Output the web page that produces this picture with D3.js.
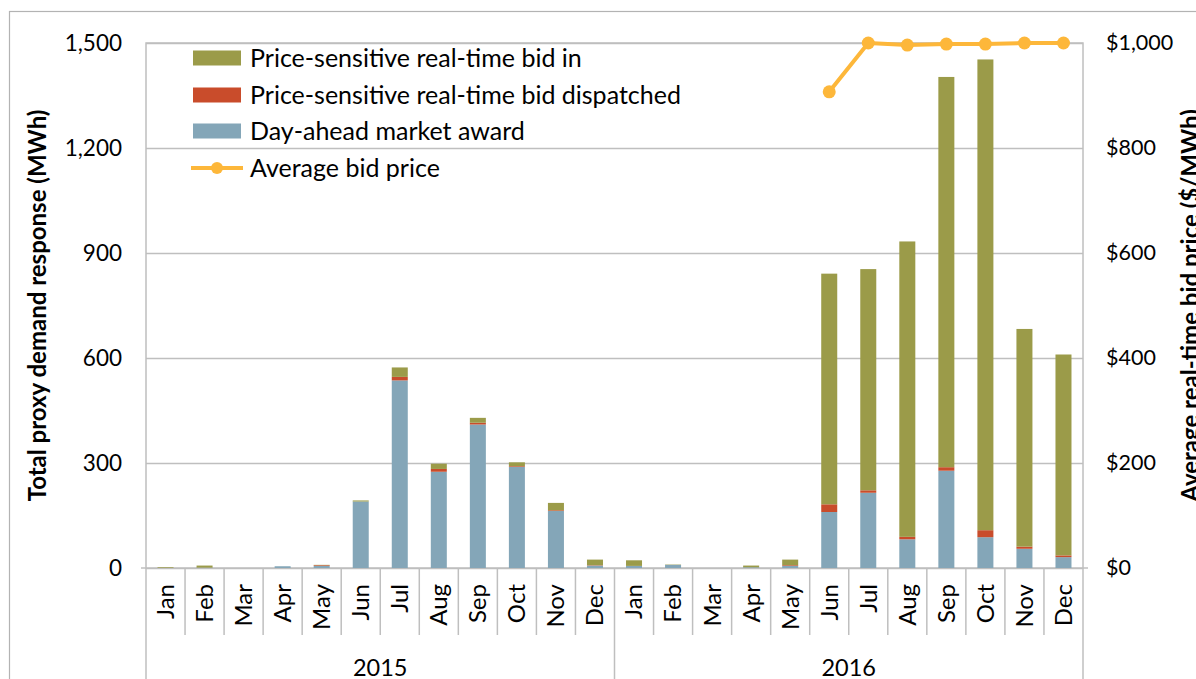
<!DOCTYPE html>
<html>
<head>
<meta charset="utf-8">
<script src="https://cdn.jsdelivr.net/npm/d3@7"></script>
<style>
  html, body { margin: 0; padding: 0; background: #fff; }
  svg { display: block; font-family: Lato, "Open Sans", sans-serif; }
</style>
</head>
<body>
<svg id="chart" width="1196" height="679"></svg>
<script>
// ---- data ----
const months = ["Jan","Feb","Mar","Apr","May","Jun","Jul","Aug","Sep","Oct","Nov","Dec"];
const years = ["2015","2016"];
const dayAheadAward = [0,1,0,5,6,190,536,275,410,289,163,7, 6,9,0,2,6,160,215,82,278,88,55,31];
const rtDispatched  = [0,0,0,0,2,0,10,8,5,2,2,1, 0,0,0,0,2,22,7,7,10,20,6,5];
const rtBidIn       = [2,6,0,0,1,3,27,15,14,11,21,16, 16,1,0,5,16,659,632,844,1115,1345,622,574];
const avgBidPrice   = [null,null,null,null,null,null,null,null,null,null,null,null,
                       null,null,null,null,null,907,1000,996,998,998,1000,1000];
const leftTicks = [0,300,600,900,1200,1500];
const rightTicks = [0,200,400,600,800,1000];
const seriesNames = ["Price-sensitive real-time bid in","Price-sensitive real-time bid dispatched","Day-ahead market award","Average bid price"];

// ---- styles ----
const colDA = "#84a6b8", colDisp = "#c94c2b", colBid = "#9b9b49", colLine = "#fdb73a";
const gridCol = "#bfbfbf", frameCol = "#bfbfbf";

const svg = d3.select("#chart");
const L = 146, R = 1083, T = 43, B = 568;

const idx = d3.range(24);
const x = d3.scaleBand().domain(idx).range([L, R]).paddingInner(0.59).paddingOuter(0.295);
const y = d3.scaleLinear().domain([0, 1500]).range([B, T]);
const y2 = d3.scaleLinear().domain([0, 1000]).range([B, T]);

// outer chart frame
svg.append("rect").attr("x", 9.5).attr("y", 11.5).attr("width", 1300).attr("height", 800)
  .attr("fill", "none").attr("stroke", "#b3b3b3").attr("stroke-width", 1.2);

// gridlines
svg.append("g").attr("transform", `translate(${L},0)`)
  .call(d3.axisLeft(y).tickValues(leftTicks).tickSize(-(R - L)).tickFormat(""))
  .call(g => g.select(".domain").remove())
  .call(g => g.selectAll("line").attr("stroke", gridCol).attr("stroke-width", 1.5));

// plot border
svg.append("rect").attr("x", L).attr("y", T).attr("width", R - L).attr("height", B - T)
  .attr("fill", "none").attr("stroke", frameCol).attr("stroke-width", 1.5);

// stacked bars
const rows = idx.map(i => ({ i, da: dayAheadAward[i], disp: rtDispatched[i], bid: rtBidIn[i] }));
const stack = d3.stack().keys(["da", "disp", "bid"])(rows);
const colors = { da: colDA, disp: colDisp, bid: colBid };
svg.append("g").selectAll("g").data(stack).join("g")
  .attr("fill", d => colors[d.key])
  .selectAll("rect").data(d => d).join("rect")
  .attr("x", d => x(d.data.i))
  .attr("width", x.bandwidth())
  .attr("y", d => y(d[1]))
  .attr("height", d => Math.max(0, y(d[0]) - y(d[1])));

// left axis labels
svg.append("g").attr("transform", `translate(${L},0)`)
  .call(d3.axisLeft(y).tickValues(leftTicks).tickSize(0).tickPadding(24).tickFormat(d3.format(",")))
  .call(g => g.select(".domain").remove())
  .call(g => g.selectAll("text").attr("font-family", "Lato").attr("font-size", 22.5).attr("fill", "#000"));

// right axis labels
svg.append("g").attr("transform", `translate(${R},0)`)
  .call(d3.axisRight(y2).tickValues(rightTicks).tickSize(0).tickPadding(23).tickFormat(d => "$" + d3.format(",")(d)))
  .call(g => g.select(".domain").remove())
  .call(g => g.selectAll("text").attr("font-family", "Lato").attr("font-size", 21.5).attr("fill", "#000"));

// small ticks at zero
svg.append("line").attr("x1", L - 5).attr("x2", L).attr("y1", B).attr("y2", B).attr("stroke", frameCol).attr("stroke-width", 1.5);
svg.append("line").attr("x1", R).attr("x2", R + 5).attr("y1", B).attr("y2", B).attr("stroke", frameCol).attr("stroke-width", 1.5);

// bottom category axis: separators
const step = x.step();
const edge = i => x(i) - (step - x.bandwidth()) / 2;
const sepG = svg.append("g").attr("stroke", frameCol).attr("stroke-width", 1.5);
d3.range(25).forEach(i => {
  const xx = i === 24 ? R : edge(i);
  const long = (i % 12 === 0);
  sepG.append("line").attr("x1", xx).attr("x2", xx).attr("y1", B).attr("y2", long ? 679 : 635);
});

// month labels
svg.append("g").attr("transform", `translate(0,${B})`)
  .call(d3.axisBottom(x).tickSize(0).tickFormat(i => months[i % 12]))
  .call(g => g.select(".domain").remove())
  .call(g => g.selectAll("text")
    .attr("font-family", "Lato").attr("font-size", 24).attr("fill", "#000")
    .attr("transform", "rotate(-90)")
    .attr("x", -16).attr("y", 0).attr("dy", "0.35em")
    .attr("text-anchor", "end"));

// year labels
years.forEach((yr, k) => {
  const x0 = edge(k * 12), x1 = k === 1 ? R : edge(12);
  svg.append("text").attr("x", (x0 + x1) / 2).attr("y", 676)
    .attr("text-anchor", "middle").attr("font-size", 23.5).attr("fill", "#000").text(yr);
});

// line series
const lineData = idx.filter(i => avgBidPrice[i] != null).map(i => ({ i, v: avgBidPrice[i] }));
const line = d3.line().x(d => x(d.i) + x.bandwidth() / 2).y(d => y2(d.v));
svg.append("path").datum(lineData).attr("d", line)
  .attr("fill", "none").attr("stroke", colLine).attr("stroke-width", 4).attr("stroke-linejoin", "round");
svg.append("g").selectAll("circle").data(lineData).join("circle")
  .attr("cx", d => x(d.i) + x.bandwidth() / 2).attr("cy", d => y2(d.v)).attr("r", 6.5).attr("fill", colLine);

// axis titles
svg.append("text").attr("transform", `translate(46,${(T + B) / 2}) rotate(-90)`)
  .attr("text-anchor", "middle").attr("font-weight", "bold").attr("font-size", 24).attr("fill", "#000")
  .text("Total proxy demand response (MWh)");
svg.append("text").attr("transform", `translate(1199,${(T + B) / 2}) rotate(-90)`)
  .attr("text-anchor", "middle").attr("font-weight", "bold").attr("font-size", 24).attr("fill", "#000")
  .text("Average real-time bid price ($/MWh)");

// legend
const lg = svg.append("g");
const legendColors = [colBid, colDisp, colDA];
const rowY = [58, 95, 131, 168];
legendColors.forEach((c, k) => {
  lg.append("rect").attr("x", 193).attr("y", rowY[k] - 7.5).attr("width", 48).attr("height", 15).attr("fill", c);
});
lg.append("line").attr("x1", 191).attr("x2", 243).attr("y1", rowY[3]).attr("y2", rowY[3])
  .attr("stroke", colLine).attr("stroke-width", 4);
lg.append("circle").attr("cx", 217).attr("cy", rowY[3]).attr("r", 6).attr("fill", colLine);
seriesNames.forEach((s, k) => {
  lg.append("text").attr("x", 250).attr("y", rowY[k]).attr("dy", "0.35em")
    .attr("font-size", 25).attr("fill", "#000").text(s);
});
</script>
</body>
</html>
